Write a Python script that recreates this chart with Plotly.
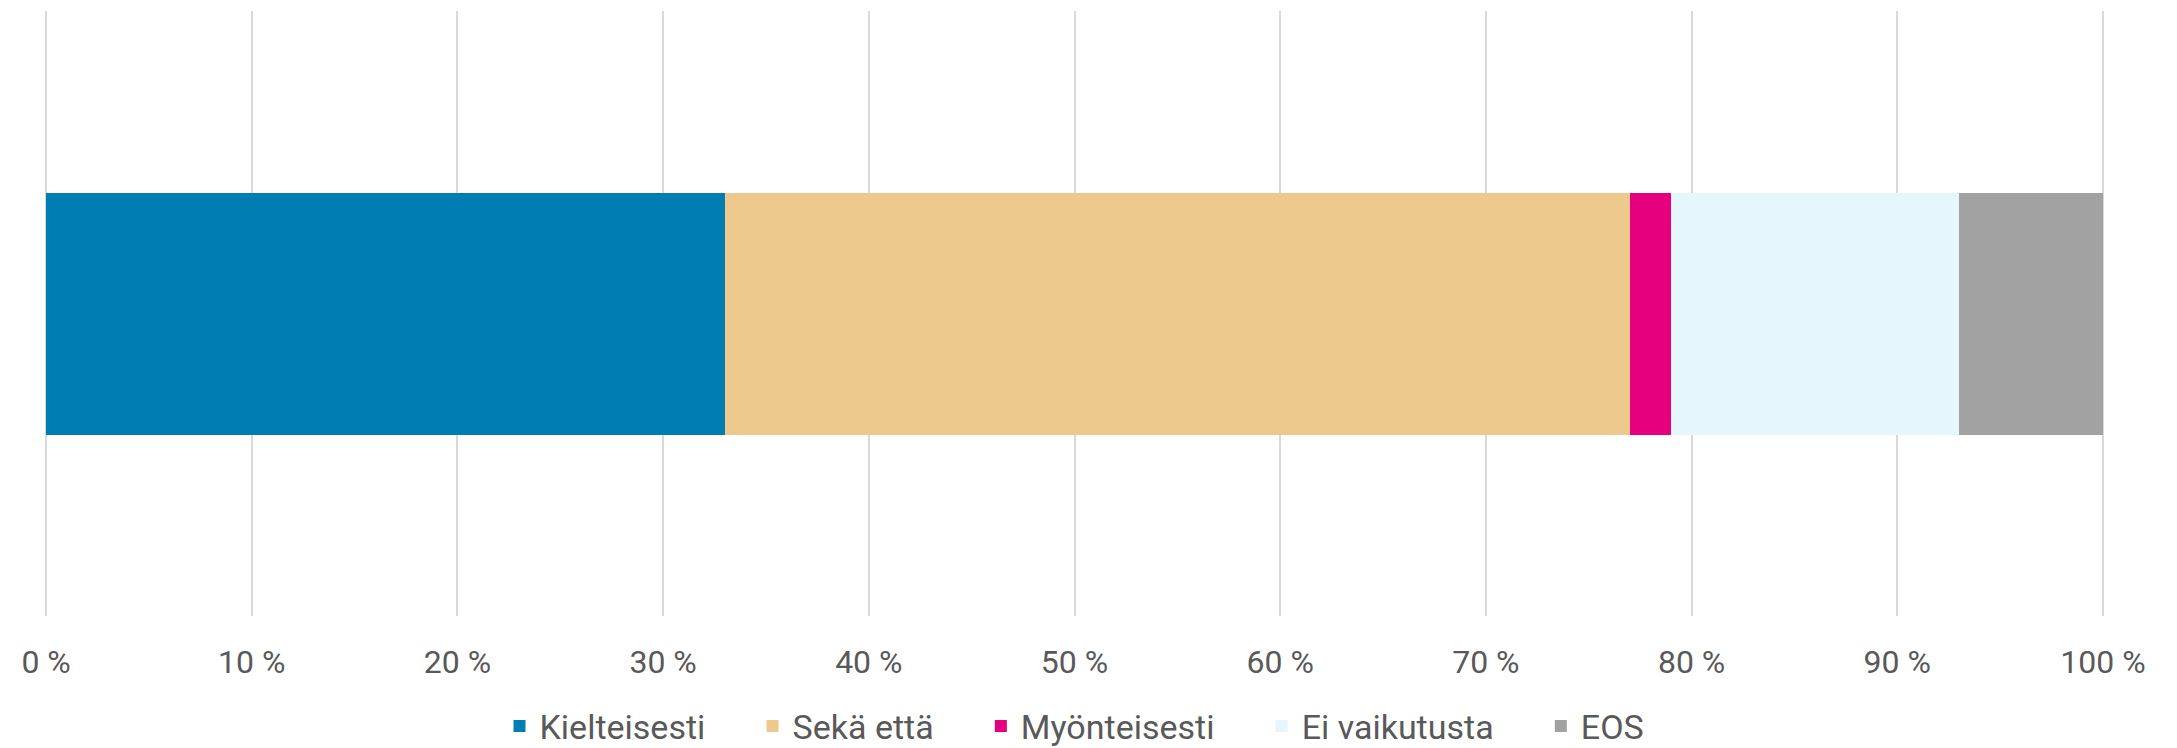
import plotly.graph_objects as go

# data
categories = ["Kielteisesti", "Sekä että", "Myönteisesti", "Ei vaikutusta", "EOS"]
values = [33, 44, 2, 14, 7]
colors = ["#007DB3", "#EDC98E", "#E6007E", "#E5F6FD", "#A2A2A2"]
row_label = [""]
tick_vals = list(range(0, 101, 10))
tick_text = [f"{v} %" for v in tick_vals]

TEXT = "#595959"
GRID = "#D9D9D9"
FONT = "Roboto, Inter, sans-serif"
PAD = "\u00a0" * 5  # extra room between legend entries

fig = go.Figure()
for i, (name, val, col) in enumerate(zip(categories, values, colors)):
    fig.add_trace(go.Bar(
        x=[val], y=row_label, orientation="h",
        name=name + (PAD if i < len(categories) - 1 else ""),
        marker=dict(color=col, line=dict(width=0)),
    ))

fig.update_layout(
    barmode="stack",
    bargap=0.6,
    width=2177, height=748,
    paper_bgcolor="white", plot_bgcolor="white",
    font=dict(family=FONT, color=TEXT, size=32),
    margin=dict(l=44, r=72, t=11, b=132, autoexpand=False),
    showlegend=True,
    legend=dict(
        orientation="h", x=0.5, xanchor="center",
        yref="container", y=0.029, yanchor="middle",
        font=dict(size=34, color=TEXT), traceorder="normal",
        itemwidth=30,
    ),
)
fig.update_xaxes(
    range=[-0.1, 100.1], tickvals=tick_vals, ticktext=tick_text,
    showgrid=True, gridcolor=GRID, gridwidth=2,
    zeroline=True, zerolinecolor=GRID, zerolinewidth=2, showline=False,
    ticks="outside", ticklen=18, tickcolor="rgba(0,0,0,0)",
    tickfont=dict(size=32, color=TEXT), automargin=False,
)
fig.update_yaxes(showticklabels=False, showgrid=False, zeroline=False, automargin=False)

# page body has a default 8px margin; drop it so the figure fills the window
fig.write_html(
    "out.html",
    config={"displayModeBar": False},
    post_script="document.body.style.margin='0';",
)
